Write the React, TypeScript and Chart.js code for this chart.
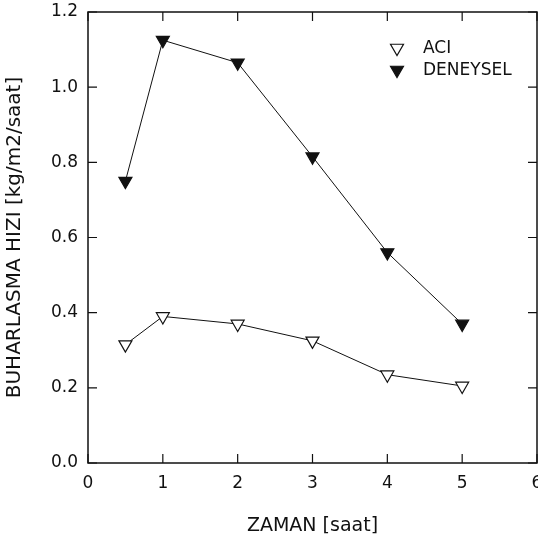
import React, { useEffect, useRef } from "react";
import { Chart, registerables } from "chart.js";

Chart.register(...registerables);

// ---- data ----
const timeHours = [0.5, 1, 2, 3, 4, 5];
const aciValues = [0.315, 0.39, 0.37, 0.325, 0.235, 0.205];
const deneyselValues = [0.75, 1.125, 1.065, 0.815, 0.56, 0.37];
const seriesLabels = ["ACI", "DENEYSEL"];
const xTitle = "ZAMAN [saat]";
const yTitle = "BUHARLASMA HIZI [kg/m2/saat]";
const xTickValues = [0, 1, 2, 3, 4, 5, 6];
const yTickValues = [0, 0.2, 0.4, 0.6, 0.8, 1.0, 1.2];

const INK = "#111";
const FONT = "'DejaVu Sans', 'Liberation Sans', sans-serif";

const framePlugin = {
  id: "frameTicks",
  afterDatasetsDraw(chart: any) {
    const { ctx, chartArea, scales } = chart;
    const { left, right, top, bottom } = chartArea;
    const tl = 9;
    ctx.save();
    ctx.strokeStyle = INK;
    ctx.lineWidth = 1.5;
    ctx.strokeRect(left, top, right - left, bottom - top);
    ctx.lineWidth = 1.2;
    ctx.beginPath();
    xTickValues.forEach((v) => {
      const px = scales.x.getPixelForValue(v);
      ctx.moveTo(px, bottom);
      ctx.lineTo(px, bottom - tl);
      ctx.moveTo(px, top);
      ctx.lineTo(px, top + tl);
    });
    yTickValues.forEach((v) => {
      const py = scales.y.getPixelForValue(v);
      ctx.moveTo(left, py);
      ctx.lineTo(left + tl, py);
      ctx.moveTo(right, py);
      ctx.lineTo(right - tl, py);
    });
    ctx.stroke();
    ctx.restore();
  },
};

const legendPlugin = {
  id: "insideLegend",
  afterDraw(chart: any) {
    const { ctx, chartArea } = chart;
    const mx = chartArea.right - 140;
    const tx = chartArea.right - 114;
    const rows = [chartArea.top + 36, chartArea.top + 58];
    const r = 7.5;
    ctx.save();
    chart.data.datasets.forEach((ds: any, i: number) => {
      const cy = rows[i];
      ctx.beginPath();
      ctx.moveTo(mx - r * 0.866, cy - r * 0.5);
      ctx.lineTo(mx + r * 0.866, cy - r * 0.5);
      ctx.lineTo(mx, cy + r);
      ctx.closePath();
      ctx.fillStyle = ds.pointBackgroundColor;
      ctx.fill();
      ctx.strokeStyle = INK;
      ctx.lineWidth = 1.2;
      ctx.stroke();
      ctx.fillStyle = INK;
      ctx.font = `17px ${FONT}`;
      ctx.textAlign = "left";
      ctx.textBaseline = "middle";
      ctx.fillText(ds.label, tx, cy + 1);
    });
    ctx.restore();
  },
};

export default function App() {
  const canvasRef = useRef<HTMLCanvasElement | null>(null);

  useEffect(() => {
    document.body.style.margin = "0";
    document.body.style.overflow = "hidden";
    const canvas = canvasRef.current;
    if (!canvas) return;

    const mk = (vals: number[]) => timeHours.map((x, i) => ({ x, y: vals[i] }));

    const chart = new Chart(canvas, {
      type: "scatter",
      data: {
        datasets: [
          {
            label: seriesLabels[0],
            data: mk(aciValues),
            showLine: true,
            borderColor: INK,
            borderWidth: 1,
            pointStyle: "triangle",
            pointRotation: 180,
            pointRadius: 7.5,
            pointBorderWidth: 1.2,
            pointBorderColor: INK,
            pointBackgroundColor: "#ffffff",
          },
          {
            label: seriesLabels[1],
            data: mk(deneyselValues),
            showLine: true,
            borderColor: INK,
            borderWidth: 1,
            pointStyle: "triangle",
            pointRotation: 180,
            pointRadius: 7.5,
            pointBorderWidth: 1.2,
            pointBorderColor: INK,
            pointBackgroundColor: INK,
          },
        ],
      },
      options: {
        responsive: false,
        animation: false,
        layout: { padding: { top: 12, right: 23, left: 0, bottom: 0 } },
        plugins: {
          legend: { display: false },
          tooltip: { enabled: false },
        },
        scales: {
          x: {
            type: "linear",
            min: 0,
            max: 6,
            afterFit: (s: any) => {
              s.height = 80;
            },
            afterBuildTicks: (s: any) => {
              s.ticks = xTickValues.map((v) => ({ value: v }));
            },
            ticks: {
              color: INK,
              font: { family: FONT, size: 17 },
              padding: 10,
              callback: (v: any) => String(v),
            },
            grid: { display: false, drawTicks: false },
            border: { display: false },
            title: {
              display: true,
              text: xTitle,
              color: INK,
              font: { family: FONT, size: 19 },
              padding: { top: 0, bottom: 6 },
            },
          },
          y: {
            type: "linear",
            min: 0,
            max: 1.2,
            afterFit: (s: any) => {
              s.width = 88;
              s.paddingTop = 0;
              s.paddingBottom = 0;
            },
            afterBuildTicks: (s: any) => {
              s.ticks = yTickValues.map((v) => ({ value: v }));
            },
            ticks: {
              color: INK,
              font: { family: FONT, size: 17 },
              padding: 10,
              callback: (v: any) => Number(v).toFixed(1),
            },
            grid: { display: false, drawTicks: false },
            border: { display: false },
            title: {
              display: true,
              text: yTitle,
              color: INK,
              font: { family: FONT, size: 20 },
              padding: { top: 3, bottom: 0 },
            },
          },
        },
      },
      plugins: [framePlugin, legendPlugin],
    });

    return () => chart.destroy();
  }, []);

  return (
    <div style={{ position: "absolute", left: 0, top: 0, width: 560, height: 543, background: "#fff" }}>
      <canvas ref={canvasRef} width={560} height={543} />
    </div>
  );
}
